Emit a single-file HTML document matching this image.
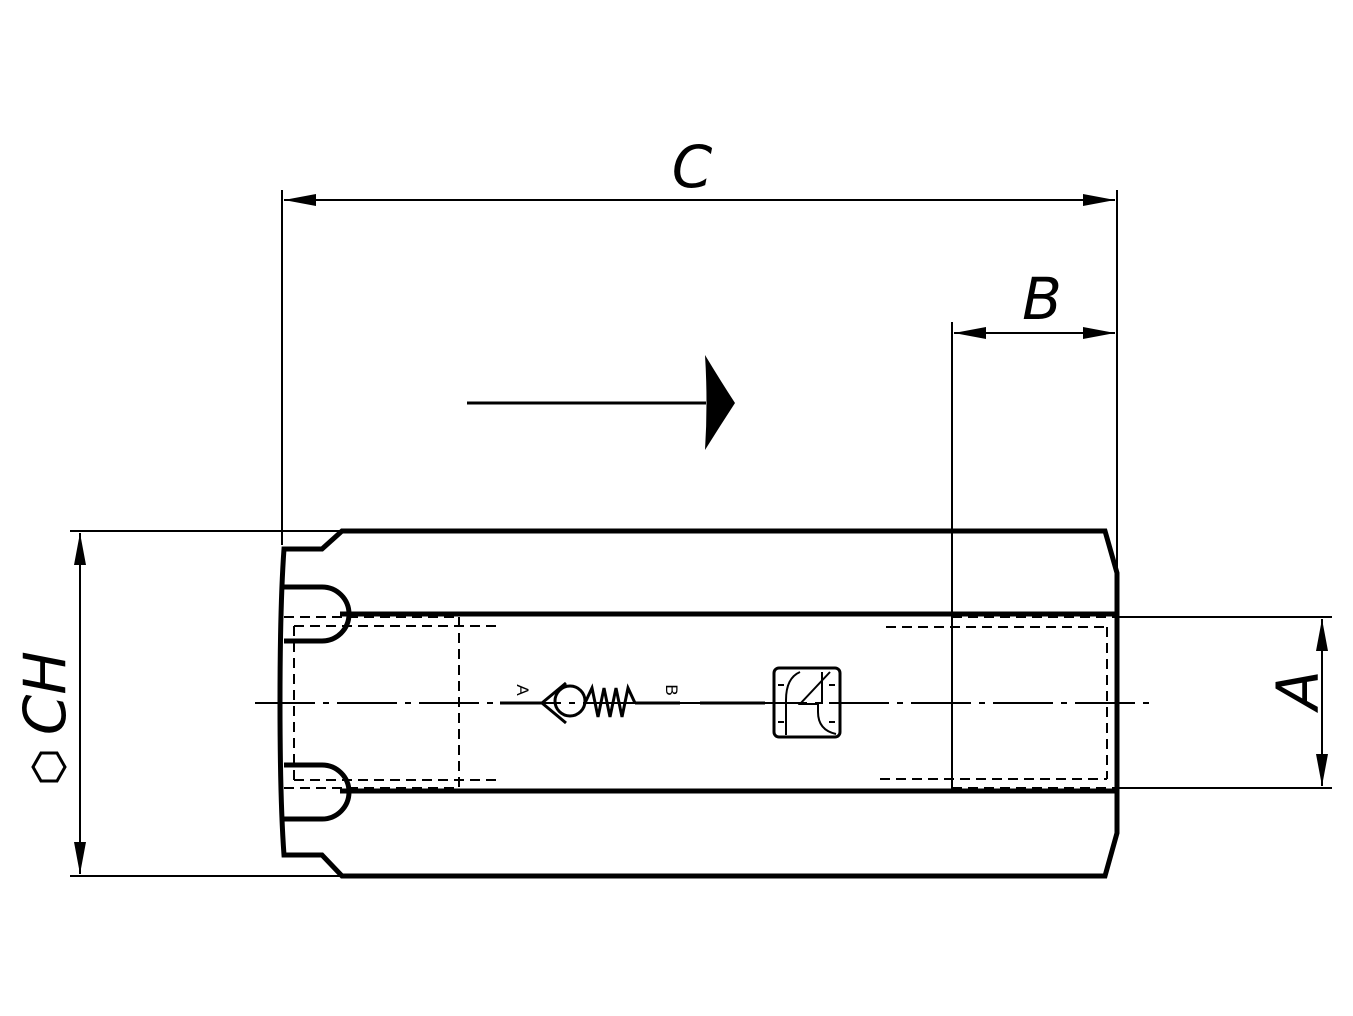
<!DOCTYPE html>
<html><head><meta charset="utf-8"><style>html,body{margin:0;padding:0;background:#fff}svg{display:block}</style></head>
<body>
<svg width="1353" height="1016" viewBox="0 0 1353 1016" xmlns="http://www.w3.org/2000/svg" font-family="Liberation Sans, sans-serif">
<g stroke="#000" fill="none" stroke-width="2">
<line x1="282" y1="190" x2="282" y2="545"/>
<line x1="1117" y1="190" x2="1117" y2="572"/>
<line x1="284" y1="200" x2="1115" y2="200"/>
<line x1="952" y1="322" x2="952" y2="790"/>
<line x1="954" y1="333" x2="1115" y2="333"/>
<line x1="1117" y1="617" x2="1332" y2="617"/>
<line x1="1117" y1="788" x2="1332" y2="788"/>
<line x1="1322" y1="619" x2="1322" y2="786"/>
<line x1="70" y1="531" x2="340" y2="531"/>
<line x1="70" y1="876" x2="340" y2="876"/>
<line x1="80" y1="533" x2="80" y2="874"/>
<line x1="255" y1="703" x2="1150" y2="703" stroke-dasharray="60 8 6 8"/>
<line x1="467" y1="403" x2="706" y2="403" stroke-width="3"/>
</g>
<g fill="#000">
<polygon points="284,200 316,194 316,206"/>
<polygon points="1115,200 1083,194 1083,206"/>
<polygon points="954,333 986,327 986,339"/>
<polygon points="1115,333 1083,327 1083,339"/>
<polygon points="1322,619 1316,651 1328,651"/>
<polygon points="1322,786 1316,754 1328,754"/>
<polygon points="80,533 74,565 86,565"/>
<polygon points="80,874 74,842 86,842"/>
<path d="M705,355 Q720,380 735,403 Q720,426 705,450 Q708,403 705,355 Z"/>
</g>
<g stroke="#000" fill="none" stroke-width="5" stroke-linejoin="miter">
<path d="M342,531 L1105,531 L1117,573 L1117,833 L1105,876 L342,876 L322,855 L284,855 Q280,800 280,703 Q280,605 284,549 L322,549 Z"/>
<line x1="340" y1="614" x2="1117" y2="614"/>
<line x1="340" y1="791" x2="1117" y2="791"/>
<path d="M284,587 L322,587 A27,27 0 0 1 322,641 L284,641"/>
<path d="M284,765 L322,765 A27,27 0 0 1 322,819 L284,819"/>
</g>
<g stroke="#000" fill="none" stroke-width="2" stroke-dasharray="10 6">
<line x1="284" y1="617" x2="460" y2="617"/>
<line x1="294" y1="626" x2="498" y2="626"/>
<line x1="294" y1="780" x2="498" y2="780"/>
<line x1="284" y1="788" x2="460" y2="788"/>
<line x1="294" y1="626" x2="294" y2="780"/>
<line x1="459" y1="617" x2="459" y2="788"/>
<line x1="952" y1="617" x2="1117" y2="617"/>
<line x1="886" y1="627" x2="1107" y2="627"/>
<line x1="880" y1="779" x2="1107" y2="779"/>
<line x1="952" y1="788" x2="1117" y2="788"/>
<line x1="1107" y1="627" x2="1107" y2="779"/>
<line x1="952" y1="617" x2="952" y2="788"/>
</g>
<g stroke="#000" fill="none" stroke-width="3">
<line x1="500" y1="703" x2="545" y2="703"/>
<line x1="635" y1="703" x2="680" y2="703"/>
<circle cx="570" cy="701" r="15"/>
<polyline points="566,683 542,703 566,723"/>
<polyline points="585,703 592,688 598,717 604,688 610,717 616,688 622,717 628,688 635,703"/>
<line x1="700" y1="703" x2="765" y2="703"/>
<rect x="774" y="668" width="66" height="69" rx="5"/>
<path d="M778,685 L784,685 M778,722 L784,722 M835,685 L829,685 M835,722 L829,722" stroke-width="2"/>
<path d="M800,672 Q786,678 786,700 L786,735 M830,672 L800,704 L818,704 L818,712 Q818,730 836,734 M822,672 L822,704" stroke-width="2"/>
</g>
<g font-size="17" fill="#000">
<text x="517" y="690" transform="rotate(90 517 690)" text-anchor="middle">A</text>
<text x="666" y="690" transform="rotate(90 666 690)" text-anchor="middle">B</text>
</g>
<g fill="#000" font-style="italic" font-size="58" font-family="DejaVu Sans, sans-serif" font-weight="300">
<text x="692" y="187" text-anchor="middle">C</text>
<text x="1042" y="319" text-anchor="middle">B</text>
<text x="1298" y="690" text-anchor="middle" transform="rotate(-90 1298 690)" dy="20">A</text>
<text x="45" y="693" text-anchor="middle" transform="rotate(-90 45 693)" dy="20">CH</text>
</g>
<polygon points="33,767 41,753 57,753 65,767 57,781 41,781" fill="none" stroke="#000" stroke-width="3"/>
</svg>
</body></html>
